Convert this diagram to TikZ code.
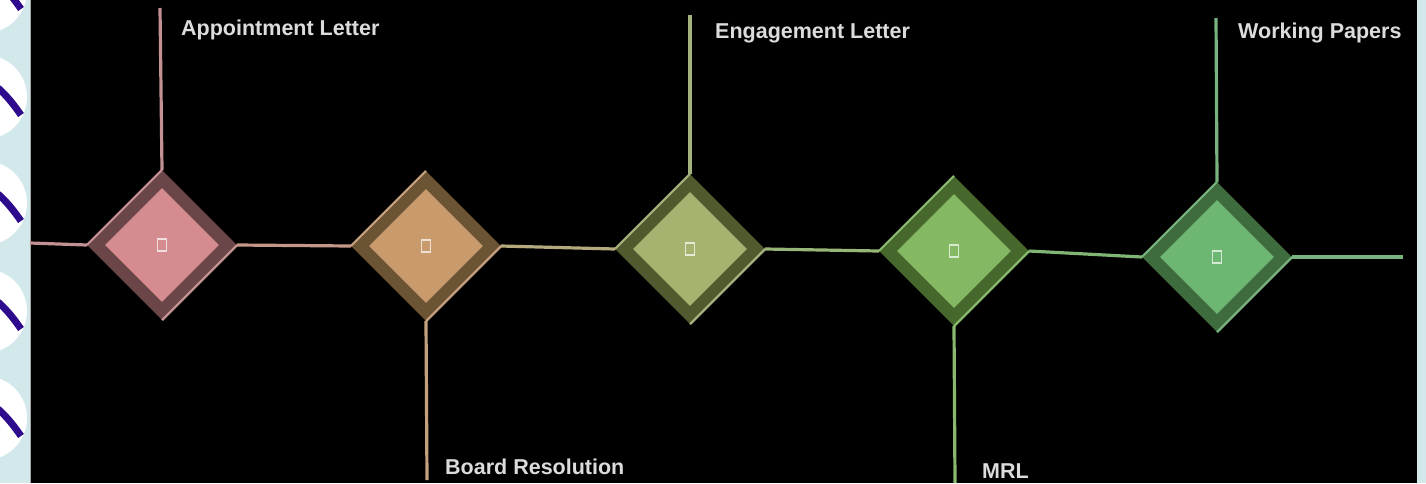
\documentclass[tikz,border=0pt]{standalone}
\usepackage{fontspec}
\setmainfont{Liberation Sans}
\usetikzlibrary{shapes.geometric}
\definecolor{stripbg}{HTML}{D2E8EB}
\definecolor{ringpurple}{HTML}{2E0B8C}
\definecolor{labeltext}{HTML}{DCDCDC}
\definecolor{ia}{HTML}{D48C90}\definecolor{oa}{HTML}{6A4648}\definecolor{la}{HTML}{C39093}
\definecolor{ib}{HTML}{C99A6C}\definecolor{ob}{HTML}{6B5434}\definecolor{lb}{HTML}{C3A07E}
\definecolor{ic}{HTML}{A4B370}\definecolor{oc}{HTML}{4F5B2E}\definecolor{lc}{HTML}{A6B27E}
\definecolor{id}{HTML}{85B862}\definecolor{od}{HTML}{47682C}\definecolor{ld}{HTML}{88B86E}
\definecolor{ie}{HTML}{6DB773}\definecolor{oe}{HTML}{3F6C3E}\definecolor{le}{HTML}{78B27E}
\tikzset{
  outerdia/.style={diamond, aspect=1, minimum width=150pt, minimum height=150pt, inner sep=0pt, fill=#1},
  innerdia/.style={diamond, aspect=1, minimum width=114pt, minimum height=114pt, inner sep=0pt, fill=#1},
  glyphbox/.style={rectangle, draw=white!70!#1, line width=1.5pt, minimum width=9pt, minimum height=12pt, inner sep=0pt},
  conn/.style={line width=3.2pt, draw=#1},
  edgehl/.style={line width=2.2pt, draw=#1},
  lbl/.style={font=\bfseries\fontsize{21.5}{24}\selectfont, text=labeltext, inner sep=0pt},
  ring/.style={fill=white, draw=none},
  hook/.style={draw=ringpurple, line width=7pt}
}
\begin{document}
\begin{tikzpicture}[x=1pt,y=-1pt]
\useasboundingbox (0,0) rectangle (1426,483);
\fill[black] (0,0) rectangle (1426,483);
% side strips
\fill[stripbg] (0,0) rectangle (30,483);
\fill[stripbg] (1417,0) rectangle (1426,483);
\draw[gray!70, line width=0.8pt] (30,0) -- (30,483);
\begin{scope}
\clip (0,0) rectangle (30,483);
\foreach \yy in {-9,97,203,311,418}{
  \fill[ring] (-15,\yy) circle (42);
  \draw[hook] (-2,\yy-9) .. controls (8,\yy) and (14,\yy+8) .. (21,\yy+18);
}
\end{scope}
% diamonds
\node[outerdia=oa] (d1) at (162,245) {};
\node[innerdia=ia] (d1i) at (d1.center) {};
\node[glyphbox=ia] (g1) at (d1.center) {};
\node[outerdia=ob] (d2) at (426,246) {};
\node[innerdia=ib] (d2i) at (d2.center) {};
\node[glyphbox=ib] (g2) at (d2.center) {};
\node[outerdia=oc] (d3) at (690,249) {};
\node[innerdia=ic] (d3i) at (d3.center) {};
\node[glyphbox=ic] (g3) at (d3.center) {};
\node[outerdia=od] (d4) at (954,251) {};
\node[innerdia=id] (d4i) at (d4.center) {};
\node[glyphbox=id] (g4) at (d4.center) {};
\node[outerdia=oe] (d5) at (1217,257) {};
\node[innerdia=ie] (d5i) at (d5.center) {};
\node[glyphbox=ie] (g5) at (d5.center) {};
% edge highlights
\draw[edgehl=la] (d1.west) -- (d1.north) (d1.east) -- (d1.south);
\draw[edgehl=lb] (d2.west) -- (d2.north) (d2.east) -- (d2.south);
\draw[edgehl=lc] (d3.west) -- (d3.north) (d3.east) -- (d3.south);
\draw[edgehl=ld] (d4.west) -- (d4.north) (d4.east) -- (d4.south);
\draw[edgehl=le] (d5.west) -- (d5.north) (d5.east) -- (d5.south);
% free ends
\coordinate (lstart) at (30,243);
\coordinate (rend) at (1403,257);
\coordinate (t1) at (160,8);
\coordinate (b2) at (427,480);
\coordinate (t3) at (690,15);
\coordinate (b4) at (955,483);
\coordinate (t5) at (1216,18);
% horizontal connectors
\draw[conn=la] (lstart) -- (d1.west);
\draw[conn=la!50!lb] (d1.east) -- (d2.west);
\draw[conn=lb!50!lc] (d2.east) -- (d3.west);
\draw[conn=lc!50!ld] (d3.east) -- (d4.west);
\draw[conn=ld!50!le] (d4.east) -- (d5.west);
\draw[conn=le] (d5.east) -- (rend);
% vertical connectors
\draw[conn=la] (d1.north) -- (t1);
\draw[conn=lb] (d2.south) -- (b2);
\draw[conn=lc] (d3.north) -- (t3);
\draw[conn=ld] (d4.south) -- (b4);
\draw[conn=le] (d5.north) -- (t5);
% labels
\node[lbl, anchor=base west] (l1) at (181,35) {Appointment Letter};
\node[lbl, anchor=base west] (l2) at (445,474) {Board Resolution};
\node[lbl, anchor=base west] (l3) at (715,38) {Engagement Letter};
\node[lbl, anchor=base west] (l4) at (982,478) {MRL};
\node[lbl, anchor=base west] (l5) at (1238,38) {Working Papers};
\end{tikzpicture}
\end{document}
